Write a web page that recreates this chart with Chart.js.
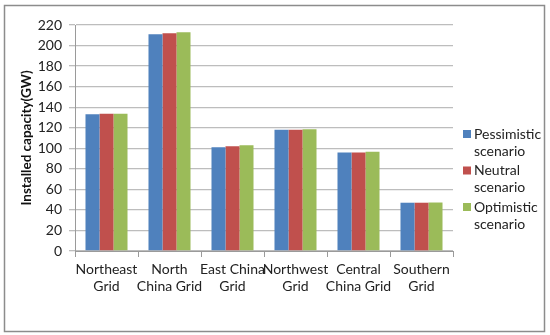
<!DOCTYPE html>
<html>
<head>
<meta charset="utf-8">
<script src="https://cdn.jsdelivr.net/npm/chart.js@4/dist/chart.umd.min.js"></script>
<style>
  html, body { margin: 0; padding: 0; background: #fff; }
  #wrap { width: 550px; height: 335px; position: relative; }
</style>
</head>
<body>
<div id="wrap"><canvas id="chart"></canvas></div>
<script>
// grids on the x axis, two lines each
const categories = [
    ['Northeast', 'Grid'],
    ['North', 'China Grid'],
    ['East China', 'Grid'],
    ['Northwest', 'Grid'],
    ['Central', 'China Grid'],
    ['Southern', 'Grid']
];
const seriesNames = [
    ['Pessimistic', 'scenario'],
    ['Neutral', 'scenario'],
    ['Optimistic', 'scenario']
];
const pessimistic = [133, 211, 101, 118, 96, 47];
const neutral = [133.5, 212, 102, 118, 96, 47];
const optimistic = [133.5, 213, 103, 118.5, 96.5, 47.2];
const yTicks = [0, 20, 40, 60, 80, 100, 120, 140, 160, 180, 200, 220];

const colors = ['#4F81BD', '#C0504D', '#9BBB59'];
const FONT = 'Lato, "Open Sans", sans-serif';

// white page with a grey frame
const framePlugin = {
    id: 'frame',
    beforeDraw(chart) {
        const ctx = chart.ctx;
        ctx.save();
        ctx.fillStyle = '#fff';
        ctx.fillRect(0, 0, chart.width, chart.height);
        ctx.strokeStyle = '#8c8c8c';
        ctx.lineWidth = 1.5;
        ctx.strokeRect(4.5, 5.5, 540, 326);
        ctx.restore();
    }
};

// legend on the right with wrapped labels
const sideLegend = {
    id: 'sideLegend',
    afterDraw(chart) {
        const ctx = chart.ctx;
        const x = chart.chartArea.right + 10;
        let y = 134;
        ctx.save();
        ctx.font = '14px ' + FONT;
        ctx.textBaseline = 'middle';
        chart.data.datasets.forEach((ds, i) => {
            ctx.fillStyle = ds.backgroundColor;
            ctx.fillRect(x, y - 4, 8, 8);
            ctx.fillStyle = '#222';
            ds.label.forEach((line, j) => {
                ctx.fillText(line, x + 11, y + j * 17);
            });
            y += 36.5;
        });
        ctx.restore();
    }
};

const ctx = document.getElementById('chart').getContext('2d');
new Chart(ctx, {
    type: 'bar',
    data: {
        labels: categories,
        datasets: [pessimistic, neutral, optimistic].map((vals, i) => ({
            label: seriesNames[i],
            data: vals,
            backgroundColor: colors[i],
            borderWidth: 0,
            categoryPercentage: 0.667,
            barPercentage: 1
        }))
    },
    options: {
        responsive: true,
        maintainAspectRatio: false,
        animation: false,
        layout: { padding: { left: 0, right: 97, top: 25, bottom: 0 } },
        plugins: {
            legend: { display: false },
            tooltip: { enabled: false }
        },
        scales: {
            x: {
                afterFit(scale) { scale.height = 84; },
                grid: {
                    display: true,
                    drawOnChartArea: false,
                    tickLength: 6,
                    color: '#9a9a9a'
                },
                border: { color: '#9a9a9a' },
                ticks: {
                    color: '#222',
                    font: { family: FONT, size: 14 },
                    padding: 4,
                    maxRotation: 0,
                    autoSkip: false
                }
            },
            y: {
                min: 0,
                max: 220,
                afterFit(scale) { scale.width = 75; },
                afterBuildTicks(scale) {
                    scale.ticks = yTicks.map(v => ({ value: v }));
                },
                grid: {
                    color: '#bdbdbd',
                    tickLength: 6,
                    lineWidth: 1.3
                },
                border: { color: '#9a9a9a' },
                ticks: {
                    color: '#222',
                    font: { family: FONT, size: 14 },
                    padding: 7
                },
                title: {
                    display: true,
                    text: 'Installed capacity(GW)',
                    color: '#111',
                    font: { family: FONT, size: 13.5, weight: 'bold' },
                    padding: { top: 19, bottom: 0 }
                }
            }
        }
    },
    plugins: [framePlugin, sideLegend]
});
</script>
</body>
</html>
